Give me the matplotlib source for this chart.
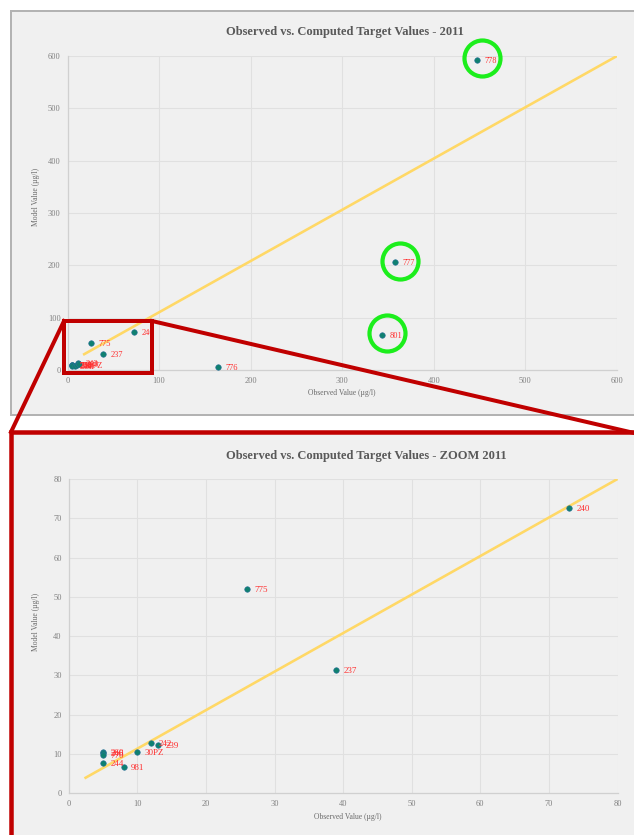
import matplotlib
matplotlib.use("Agg")
import matplotlib.pyplot as plt
from matplotlib.lines import Line2D
from matplotlib.patches import Rectangle
from matplotlib import transforms

# ---- data -------------------------------------------------------------
station_ids = ["778", "777", "801", "776", "240", "775", "237",
               "260", "246", "770", "244", "981", "30PZ", "242", "239"]
observed = [447, 358, 343, 164, 73, 26, 39,
            5, 5, 5, 5, 8, 10, 12, 13]
modeled = [593, 206, 67, 6, 72.5, 52, 31.5,
           10.4, 10.2, 9.8, 7.8, 6.7, 10.5, 12.8, 12.2]
flagged_ids = ["778", "777", "801"]

# trend line end points for each chart
trend_full_x = [17, 600]
trend_full_y = [29, 600]
trend_zoom_x = [2.3, 80]
trend_zoom_y = [3.8, 80]

full_ticks = [0, 100, 200, 300, 400, 500, 600]
zoom_ticks = [0, 10, 20, 30, 40, 50, 60, 70, 80]

title_full = "Observed vs. Computed Target Values - 2011"
title_zoom = "Observed vs. Computed Target Values - ZOOM 2011"
xlabel = "Observed Value (µg/l)"
ylabel = "Model Value (µg/l)"

# ---- styling ----------------------------------------------------------
W, H = 634, 835
SERIF = ["Liberation Serif", "DejaVu Serif"]
plt.rcParams["font.family"] = SERIF
BG = "#f0f0f0"
GRID = "#e0e0e0"
POINT = "#0f8070"
LABEL_RED = "#ff2e2e"
TREND = "#ffd866"
DARK_RED = "#c00000"
GREEN = "#1cee1c"
PX = 72 / 100  # points per pixel


def fx(px):
    return px / W


def fy(py):
    return 1 - py / H


fig = plt.figure(figsize=(W / 100, H / 100), dpi=100)
fig.patch.set_facecolor("white")

# panel frames
fig.patches.append(Rectangle((fx(11), fy(415)), fx(650) - fx(11), fy(11) - fy(415),
                             transform=fig.transFigure, facecolor=BG,
                             edgecolor="#b3b3b3", linewidth=2 * PX, zorder=-5))
fig.patches.append(Rectangle((fx(11), fy(860)), fx(660) - fx(11), fy(432) - fy(860),
                             transform=fig.transFigure, facecolor=BG,
                             edgecolor=DARK_RED, linewidth=4.5 * PX, zorder=-5))


def style_axes(ax, ticks, lim):
    ax.set_facecolor("none")
    ax.set_xlim(lim)
    ax.set_ylim(lim)
    ax.set_xticks(ticks)
    ax.set_yticks(ticks)
    ax.grid(True, color=GRID, linewidth=0.8)
    ax.set_axisbelow(True)
    for s in ("top", "right"):
        ax.spines[s].set_visible(False)
    for s in ("left", "bottom"):
        ax.spines[s].set_color("#d0d0d0")
        ax.spines[s].set_linewidth(0.9)
    ax.tick_params(length=0, labelsize=6, colors="#808080", pad=5)
    for lab in ax.get_xticklabels() + ax.get_yticklabels():
        lab.set_family(SERIF)


def draw_points(ax, fs, tx, ty):
    ax.plot(tx, ty, color=TREND, linewidth=2.6 * PX, solid_capstyle="butt", zorder=2)
    ax.scatter(observed, modeled, s=16, color=POINT, edgecolors="#2a6f9a",
               linewidths=0.4, zorder=3, clip_on=False)
    off = transforms.offset_copy(ax.transData, fig=fig, x=7.5 * PX, y=-1 * PX, units="points")
    for sid, xo, yo in zip(station_ids, observed, modeled):
        if xo <= ax.get_xlim()[1] and yo <= ax.get_ylim()[1]:
            ax.text(xo, yo, sid, transform=off, color=LABEL_RED, fontsize=fs,
                    ha="left", va="center", zorder=4)


ax1 = fig.add_axes([fx(67.5), fy(370), fx(617) - fx(67.5), fy(56) - fy(370)])
ax2 = fig.add_axes([fx(68.7), fy(793.3), fx(617.5) - fx(68.7), fy(479) - fy(793.3)])

style_axes(ax1, full_ticks, (0, 600))
style_axes(ax2, zoom_ticks, (0, 80))
draw_points(ax1, 6, trend_full_x, trend_full_y)
draw_points(ax2, 6.5, trend_zoom_x, trend_zoom_y)

# green rings around the outlying stations
for sid, xo, yo in zip(station_ids, observed, modeled):
    if sid in flagged_ids:
        ring = transforms.offset_copy(ax1.transData, fig=fig, x=5 * PX, y=1.5 * PX, units="points")
        ax1.plot([xo], [yo], marker="o", markersize=36 * PX, markerfacecolor="none",
                 markeredgecolor=GREEN, markeredgewidth=4.2 * PX, transform=ring,
                 zorder=5, clip_on=False)

# titles and axis labels
fig.text(fx(345), fy(32), title_full, ha="center", va="center", fontsize=9,
         fontweight="bold", color="#595959")
fig.text(fx(366), fy(456), title_zoom, ha="center", va="center", fontsize=9,
         fontweight="bold", color="#595959")
fig.text(fx(342), fy(393), xlabel, ha="center", va="center", fontsize=5.5, color="#6b6b6b")
fig.text(fx(348), fy(817), xlabel, ha="center", va="center", fontsize=5.5, color="#6b6b6b")
fig.text(fx(36), fy(197), ylabel, ha="center", va="center", rotation=90, fontsize=5.5,
         color="#6b6b6b")
fig.text(fx(36), fy(622), ylabel, ha="center", va="center", rotation=90, fontsize=5.5,
         color="#6b6b6b")

# zoom window on the full chart and its leader lines to the zoomed panel
box_l, box_t, box_r, box_b = 64, 321, 152, 373
fig.patches.append(Rectangle((fx(box_l), fy(box_b)), fx(box_r) - fx(box_l), fy(box_t) - fy(box_b),
                             transform=fig.transFigure, facecolor="none",
                             edgecolor=DARK_RED, linewidth=4 * PX, zorder=10))
fig.lines.append(Line2D([fx(box_l), fx(11)], [fy(box_t), fy(432)], transform=fig.transFigure,
                        color=DARK_RED, linewidth=4 * PX, zorder=10))
fig.lines.append(Line2D([fx(box_r), fx(660)], [fy(box_t), fy(439)], transform=fig.transFigure,
                        color=DARK_RED, linewidth=4 * PX, zorder=10))

fig.savefig("out.png", dpi=100, facecolor="white")
